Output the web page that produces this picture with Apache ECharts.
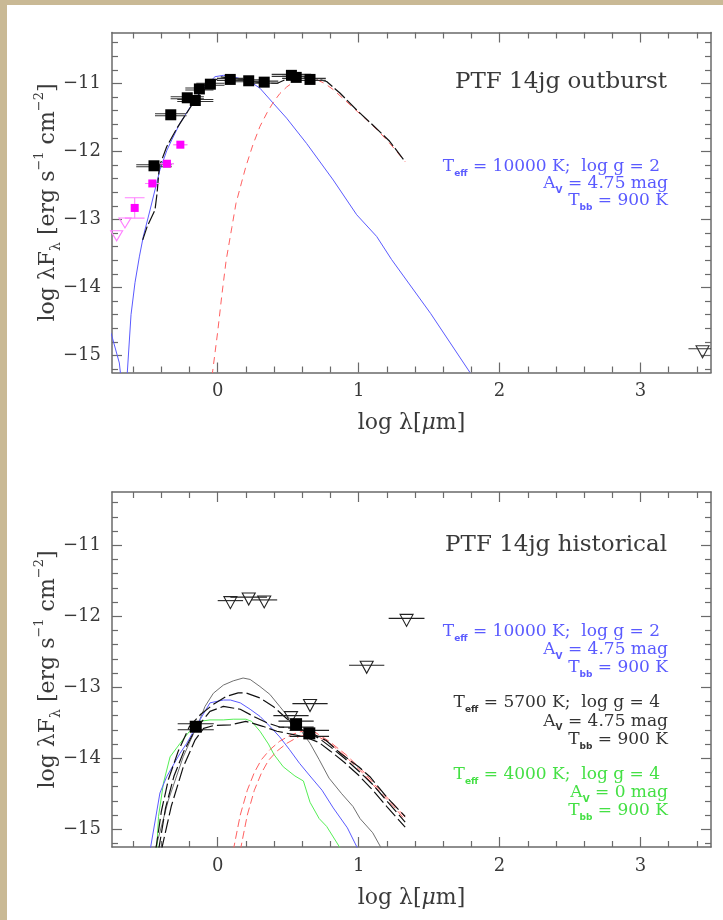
<!DOCTYPE html>
<html><head><meta charset="utf-8">
<script src="https://cdn.jsdelivr.net/npm/echarts@6/dist/echarts.min.js"></script>
<style>html,body{margin:0;padding:0;background:#fff}#c{width:723px;height:920px}</style>
</head><body><div id="c"></div>
<script>
// ---------- axis ticks ----------
const xTickLabels = [0, 1, 2, 3];
const yTickLabels = [-15, -14, -13, -12, -11];
const X_MIN = -0.75, X_MAX = 3.5, Y_MIN = -15.25, Y_MAX = -10.25;

// ---------- top panel: PTF 14jg outburst ----------
const outBlueEdge = [[-0.76,-14.66],[-0.75,-14.72],[-0.698,-15.11],[-0.688,-15.3]];
const outBlue = [[-0.643,-15.3],[-0.615,-14.4],[-0.587,-13.93],[-0.556,-13.55],[-0.528,-13.25],[-0.48,-12.86],[-0.41,-12.27],[-0.36,-11.98],[-0.326,-11.83],[-0.267,-11.58],[-0.208,-11.39],[-0.149,-11.19],[-0.078,-11.02],[-0.019,-10.9],[0.04,-10.88],[0.11,-10.9],[0.229,-10.97],[0.30,-11.07],[0.394,-11.29],[0.489,-11.51],[0.63,-11.88],[0.82,-12.42],[0.986,-12.93],[1.128,-13.25],[1.234,-13.59],[1.51,-14.38],[1.79,-15.25]];
const outBlack = [[-0.532,-13.30],[-0.50,-13.1],[-0.445,-12.86],[-0.43,-12.61],[-0.414,-12.22],[-0.362,-11.93],[-0.29,-11.66],[-0.197,-11.36],[-0.126,-11.14],[-0.055,-11.02],[0.016,-10.9],[0.09,-10.92],[0.2,-10.95],[0.3,-10.99],[0.42,-11.0],[0.525,-10.9],[0.6,-10.9],[0.7,-10.93],[0.773,-10.97],[0.867,-11.14],[0.986,-11.39],[1.10,-11.61],[1.22,-11.85],[1.33,-12.15]];
const outRed = [[-0.04,-15.3],[0.0,-14.65],[0.03,-14.1],[0.06,-13.6],[0.10,-13.12],[0.13,-12.76],[0.17,-12.45],[0.20,-12.22],[0.25,-11.9],[0.30,-11.63],[0.35,-11.43],[0.39,-11.29],[0.44,-11.15],[0.49,-11.05],[0.55,-10.96],[0.62,-10.92],[0.70,-10.94],[0.76,-11.0],[0.82,-11.09],[0.90,-11.24],[0.99,-11.41],[1.06,-11.54],[1.13,-11.68],[1.19,-11.81],[1.25,-11.95],[1.33,-12.15]];
const outObsX    = [-0.452,-0.333,-0.216,-0.159,-0.130,-0.052,0.089,0.22,0.33,0.523,0.557,0.655];
const outObsY    = [-12.21,-11.46,-11.21,-11.25,-11.08,-11.01,-10.94,-10.96,-10.98,-10.88,-10.91,-10.94];
const outObsXErr = [0.126,0.112,0.118,0.128,0.1,0.1,0.094,0.106,0.1,0.14,0.1,0.112];
const magX    = [-0.589,-0.464,-0.36,-0.265];
const magY    = [-12.83,-12.47,-12.18,-11.90];
const magXErr = [0.07,0.05,0.05,0.05];
const magYErr = [0.15,0,0,0];
const magLimX = [-0.717,-0.658];
const magLimY = [-13.24,-13.05];
const outLimX = [3.44];
const outLimY = [-14.9];
const outLimXErr = [0.1];

// ---------- bottom panel: PTF 14jg historical ----------
const hisGray = [[-0.445,-15.3],[-0.35,-14.59],[-0.245,-13.98],[-0.126,-13.45],[-0.09,-13.27],[-0.031,-13.085],[0.04,-12.97],[0.11,-12.91],[0.18,-12.87],[0.23,-12.89],[0.30,-12.99],[0.37,-13.10],[0.44,-13.27],[0.51,-13.44],[0.58,-13.58],[0.655,-13.79],[0.72,-14.02],[0.79,-14.28],[0.88,-14.5],[0.96,-14.68],[1.01,-14.85],[1.1,-15.05],[1.17,-15.3]];
const hisBlue = [[-0.48,-15.3],[-0.41,-14.49],[-0.362,-14.26],[-0.267,-13.93],[-0.22,-13.79],[-0.126,-13.46],[-0.055,-13.22],[0.04,-13.18],[0.09,-13.18],[0.16,-13.22],[0.23,-13.31],[0.30,-13.41],[0.37,-13.55],[0.44,-13.70],[0.51,-13.88],[0.58,-14.07],[0.655,-14.25],[0.74,-14.45],[0.82,-14.70],[0.92,-14.98],[1.0,-15.3]];
const hisGreen = [[-0.433,-15.3],[-0.42,-14.82],[-0.385,-14.35],[-0.338,-13.98],[-0.267,-13.79],[-0.2,-13.62],[-0.126,-13.48],[-0.055,-13.46],[0.04,-13.46],[0.11,-13.45],[0.20,-13.45],[0.24,-13.48],[0.30,-13.62],[0.36,-13.80],[0.40,-13.95],[0.465,-14.12],[0.548,-14.25],[0.608,-14.32],[0.655,-14.62],[0.72,-14.85],[0.773,-14.96],[0.88,-15.3]];
const hisRedA = [[0.11,-15.3],[0.16,-14.8],[0.21,-14.45],[0.26,-14.2],[0.31,-14.02],[0.37,-13.88],[0.44,-13.76],[0.52,-13.67],[0.60,-13.62],[0.68,-13.62],[0.79,-13.76],[0.91,-13.95],[1.03,-14.18],[1.15,-14.45],[1.25,-14.65],[1.33,-14.83]];
const hisRedB = [[0.16,-15.3],[0.21,-14.8],[0.26,-14.45],[0.31,-14.21],[0.36,-14.03],[0.42,-13.9],[0.49,-13.79],[0.58,-13.69],[0.68,-13.66],[0.79,-13.78],[0.91,-13.98],[1.03,-14.21],[1.15,-14.48],[1.25,-14.68],[1.33,-14.87]];
const hisBlackA = [[-0.44,-15.3],[-0.40,-14.75],[-0.35,-14.3],[-0.28,-13.9],[-0.2,-13.55],[-0.12,-13.38],[-0.03,-13.24],[0.06,-13.13],[0.145,-13.08],[0.20,-13.08],[0.30,-13.15],[0.394,-13.27],[0.489,-13.44],[0.548,-13.53],[0.60,-13.6],[0.7,-13.68],[0.77,-13.75],[0.87,-13.93],[1.0,-14.12],[1.08,-14.26],[1.2,-14.55],[1.33,-14.82]];
const hisBlackB = [[-0.42,-15.3],[-0.37,-14.7],[-0.31,-14.25],[-0.24,-13.9],[-0.16,-13.6],[-0.055,-13.34],[0.04,-13.27],[0.16,-13.31],[0.254,-13.41],[0.35,-13.50],[0.44,-13.56],[0.537,-13.58],[0.62,-13.62],[0.72,-13.72],[0.8,-13.84],[0.9,-14.0],[1.0,-14.18],[1.1,-14.37],[1.2,-14.6],[1.33,-14.9]];
const hisBlackC = [[-0.40,-15.3],[-0.33,-14.68],[-0.244,-14.12],[-0.16,-13.74],[-0.10,-13.58],[-0.03,-13.54],[0.09,-13.53],[0.20,-13.48],[0.32,-13.55],[0.42,-13.62],[0.52,-13.66],[0.62,-13.70],[0.72,-13.78],[0.8,-13.9],[0.9,-14.06],[1.0,-14.24],[1.1,-14.45],[1.2,-14.68],[1.33,-14.97]];
const hisObsX    = [-0.156,0.556,0.65];
const hisObsY    = [-13.556,-13.52,-13.65];
const hisObsXErr = [0.128,0.125,0.14];
const hisLimX    = [0.09,0.22,0.33,0.52,0.655,1.057,1.34];
const hisLimY    = [-11.78,-11.73,-11.77,-13.40,-13.23,-12.69,-12.03];
const hisLimXErr = [0.09,0.13,0.092,0.125,0.125,0.125,0.127];

// ---------- styling ----------
const SERIF = '"DejaVu Serif", "Liberation Serif", serif';
const SANS = '"DejaVu Sans", sans-serif';
const AX = '#6a6a6a', TXT = '#3a3a3a';
const BLUE = '#5a5aff', GREEN = '#55ee55', RED = '#ff6060';
const TRI = 'path://M0,0L12,0L6,11Z';

const zip = (xs, ys, es) => xs.map((x, i) => es ? [x, ys[i], es[i]] : [x, ys[i]]);
const range = (a, b, s) => { const r = []; for (let v = a; v <= b + 1e-9; v += s) r.push(Math.round(v * 10) / 10); return r; };
const xMinor = range(-0.6, 3.4, 0.2).filter(v => Math.abs(v - Math.round(v)) > 1e-6);
const yMinor = range(-15.2, -10.4, 0.2).filter(v => Math.abs(v - Math.round(v)) > 1e-6);
const minus = v => (v < 0 ? '\u2212' : '') + Math.abs(v);

function xAxes(gi) {
  const base = { gridIndex: gi, type: 'value', min: X_MIN, max: X_MAX, splitLine: { show: false } };
  const line = { show: true, onZero: false, lineStyle: { color: AX, width: 1.5 } };
  const noLine = { show: false, onZero: false };
  const tick = (vals, len) => ({ show: true, inside: true, length: len, customValues: vals, lineStyle: { color: AX, width: 1.2 } });
  return [
    Object.assign({}, base, { position: 'bottom', axisLine: line, axisTick: tick(xTickLabels, 10),
      axisLabel: { show: true, customValues: xTickLabels, margin: 10, color: TXT, fontFamily: SERIF, fontSize: 18, formatter: minus },
      name: '{n|log λ[}{i|μ}{n|m]}', nameLocation: 'middle', nameGap: 40,
      nameTextStyle: { color: TXT, fontFamily: SERIF, fontSize: 22, rich: { n: { fontFamily: SERIF, fontSize: 22, color: TXT }, i: { fontFamily: SERIF, fontStyle: 'italic', fontSize: 22, color: TXT } } } }),
    Object.assign({}, base, { position: 'bottom', axisLine: noLine, axisTick: tick(xMinor, 6), axisLabel: { show: false } }),
    Object.assign({}, base, { position: 'top', axisLine: line, axisTick: tick(xTickLabels, 10), axisLabel: { show: false } }),
    Object.assign({}, base, { position: 'top', axisLine: noLine, axisTick: tick(xMinor, 6), axisLabel: { show: false } })
  ];
}
function yAxes(gi) {
  const base = { gridIndex: gi, type: 'value', min: Y_MIN, max: Y_MAX, splitLine: { show: false } };
  const line = { show: true, onZero: false, lineStyle: { color: AX, width: 1.5 } };
  const noLine = { show: false, onZero: false };
  const tick = (vals, len) => ({ show: true, inside: true, length: len, customValues: vals, lineStyle: { color: AX, width: 1.2 } });
  return [
    Object.assign({}, base, { position: 'left', axisLine: line, axisTick: tick(yTickLabels, 10),
      axisLabel: { show: true, customValues: yTickLabels, margin: 11, color: TXT, fontFamily: SERIF, fontSize: 18, formatter: minus },
      name: '{n|log λF}{sub|λ}{n| [erg s}{sup|\u22121}{n| cm}{sup|\u22122}{n|]}', nameLocation: 'middle', nameGap: 49, nameRotate: 90,
      nameMoveOverlap: false,
      nameTextStyle: { color: TXT, fontFamily: SERIF, fontSize: 22, rich: {
        n: { fontFamily: SERIF, fontSize: 22, lineHeight: 30, color: TXT },
        sub: { fontFamily: SERIF, fontSize: 14, lineHeight: 16, verticalAlign: 'bottom', color: TXT },
        sup: { fontFamily: SERIF, fontSize: 13, lineHeight: 16, verticalAlign: 'top', color: TXT } } } }),
    Object.assign({}, base, { position: 'left', axisLine: noLine, axisTick: tick(yMinor, 6), axisLabel: { show: false } }),
    Object.assign({}, base, { position: 'right', axisLine: line, axisTick: tick(yTickLabels, 10), axisLabel: { show: false } }),
    Object.assign({}, base, { position: 'right', axisLine: noLine, axisTick: tick(yMinor, 6), axisLabel: { show: false } })
  ];
}

function lineS(ax, data, color, width, type, z) {
  return { type: 'line', xAxisIndex: ax, yAxisIndex: ax, data: data, symbol: 'none', smooth: false, clip: true, z: z || 2,
    lineStyle: { color: color, width: width, type: type || 'solid' }, silent: true };
}
// horizontal bars (offsets in px give the doubled-line look)
function hBars(ax, data, color, offs) {
  return { type: 'custom', xAxisIndex: ax, yAxisIndex: ax, data: data, clip: true, z: 4, silent: true,
    renderItem: function (p, api) {
      const x = api.value(0), y = api.value(1), e = api.value(2);
      const a = api.coord([x - e, y]), b = api.coord([x + e, y]);
      return { type: 'group', children: offs.map(o => ({ type: 'line', shape: { x1: a[0], y1: a[1] + o, x2: b[0], y2: b[1] + o }, style: { stroke: color, lineWidth: 1.1 } })) };
    } };
}
// vertical error bar with caps
function vBars(ax, data, color) {
  return { type: 'custom', xAxisIndex: ax, yAxisIndex: ax, data: data, clip: true, z: 4, silent: true,
    renderItem: function (p, api) {
      const x = api.value(0), y = api.value(1), ex = api.value(2), ey = api.value(3);
      const t = api.coord([x, y + ey]), bt = api.coord([x, y - ey]);
      const tl = api.coord([x - ex, y + ey]), tr = api.coord([x + ex, y + ey]);
      const bl = api.coord([x - ex, y - ey]), br = api.coord([x + ex, y - ey]);
      const st = { stroke: color, lineWidth: 1.1 };
      return { type: 'group', children: [
        { type: 'line', shape: { x1: t[0], y1: t[1], x2: bt[0], y2: bt[1] }, style: st },
        { type: 'line', shape: { x1: tl[0], y1: tl[1], x2: tr[0], y2: tr[1] }, style: st },
        { type: 'line', shape: { x1: bl[0], y1: bl[1], x2: br[0], y2: br[1] }, style: st } ] };
    } };
}
function squares(ax, data, color, size) {
  return { type: 'scatter', xAxisIndex: ax, yAxisIndex: ax, data: data, symbol: 'rect', symbolSize: size, z: 5, silent: true,
    itemStyle: { color: color, opacity: 1 } };
}
function tris(ax, data, color, size, off) {
  return { type: 'scatter', xAxisIndex: ax, yAxisIndex: ax, data: data, symbol: TRI, symbolSize: size, symbolOffset: [0, off], z: 5, silent: true,
    itemStyle: { color: 'transparent', borderColor: color, borderWidth: 1.1, opacity: 1 } };
}

const series = [
  // top
  lineS(0, outBlueEdge, BLUE, 1),
  lineS(0, outBlue, BLUE, 1),
  lineS(0, outRed, RED, 1, [7, 5]),
  lineS(0, outBlack, '#111', 1.2, [14, 3], 3),
  hBars(0, zip(outObsX, outObsY, outObsXErr), '#333', [-1, 1]),
  squares(0, zip(outObsX, outObsY), '#000', 11),
  vBars(0, magX.map((x, i) => [x, magY[i], magXErr[i], magYErr[i]]), '#ff80ff'),
  squares(0, zip(magX, magY), '#ff00ff', 8),
  tris(0, zip(magLimX, magLimY), '#ff80ff', [12, 10], 0),
  hBars(0, zip(outLimX, outLimY, outLimXErr), '#333', [0]),
  tris(0, zip(outLimX, outLimY), '#333', [13, 12], 3),
  // bottom
  lineS(4, hisGray, '#707070', 1),
  lineS(4, hisGreen, GREEN, 1),
  lineS(4, hisBlue, BLUE, 1),
  lineS(4, hisRedA, RED, 1, [8, 4]),
  lineS(4, hisRedB, RED, 1, [8, 4]),
  lineS(4, hisBlackA, '#111', 1.2, [14, 4], 3),
  lineS(4, hisBlackB, '#111', 1.2, [14, 4], 3),
  lineS(4, hisBlackC, '#111', 1.2, [14, 4], 3),
  hBars(4, zip(hisLimX, hisLimY, hisLimXErr), '#222', [0]),
  tris(4, zip(hisLimX, hisLimY), '#222', [13, 12], 2),
  hBars(4, zip(hisObsX, hisObsY, hisObsXErr), '#222', [-3, 3]),
  squares(4, zip(hisObsX, hisObsY), '#000', 12)
];

function label(lines, x, y, color, size) {
  return {
    type: 'text', x: x, y: y, z: 100, silent: true,
    style: {
      text: lines, align: 'right', verticalAlign: 'middle', fill: color,
      rich: {
        t: { fontFamily: SERIF, fontSize: size, lineHeight: 22, fill: color },
        s: { fontFamily: SANS, fontWeight: 'bold', fontSize: 9, lineHeight: 13, verticalAlign: 'bottom', fill: color }
      }
    }
  };
}
function block(color, teff, logg, av, y0, dy) {
  return [
    label('{t|T}{s|eff}{t| = ' + teff + ' K;  log g = ' + logg + '}', 660, y0, color, 17),
    label('{t|A}{s|V}{t| = ' + av + ' mag}', 668, y0 + dy, color, 17),
    label('{t|T}{s|bb}{t| = 900 K}', 668, y0 + 2 * dy, color, 17)
  ];
}

const graphic = [
  { type: 'rect', shape: { x: 0, y: 0, width: 7, height: 920 }, style: { fill: '#c9b995' }, z: 100, silent: true },
  { type: 'rect', shape: { x: 0, y: 0, width: 723, height: 5 }, style: { fill: '#c9b995' }, z: 100, silent: true },
  { type: 'text', x: 667, y: 82, z: 100, silent: true, style: { text: 'PTF 14jg outburst', align: 'right', verticalAlign: 'middle', fill: TXT, fontFamily: SERIF, fontSize: 23 } },
  { type: 'text', x: 667, y: 545, z: 100, silent: true, style: { text: 'PTF 14jg historical', align: 'right', verticalAlign: 'middle', fill: TXT, fontFamily: SERIF, fontSize: 23 } }
].concat(block(BLUE, '10000', '2', '4.75', 167, 17))
 .concat(block(BLUE, '10000', '2', '4.75', 632, 18))
 .concat(block('#333', '5700', '4', '4.75', 703, 18.5))
 .concat(block('#44e044', '4000', '4', '0', 775, 18));

const chart = echarts.init(document.getElementById('c'), null, { renderer: 'canvas' });
chart.setOption({
  backgroundColor: '#ffffff',
  animation: false,
  grid: [
    { left: 112, top: 32.5, width: 599, height: 340 },
    { left: 112, top: 492, width: 599, height: 355 }
  ],
  xAxis: xAxes(0).concat(xAxes(1)),
  yAxis: yAxes(0).concat(yAxes(1)),
  series: series,
  graphic: graphic
});
</script></body></html>
